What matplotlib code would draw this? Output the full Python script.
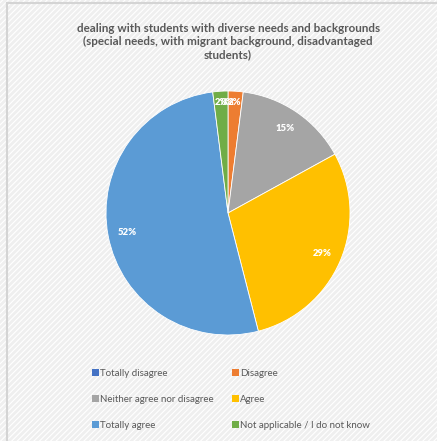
import matplotlib
matplotlib.use('Agg')
import matplotlib.pyplot as plt
from matplotlib.patches import Rectangle
from matplotlib.lines import Line2D

labels = ['Totally disagree', 'Disagree', 'Neither agree nor disagree', 'Agree',
          'Totally agree', 'Not applicable / I do not know']
values = [0, 2, 15, 29, 52, 2]
colors = ['#4472C4', '#ED7D31', '#A5A5A5', '#FFC000', '#5B9BD5', '#70AD47']
title = ('dealing with students with diverse needs and backgrounds\n'
         '(special needs, with migrant background, disadvantaged\nstudents)')

plt.rcParams['font.family'] = ['Lato', 'DejaVu Sans']
plt.rcParams['hatch.linewidth'] = 2.0

fig = plt.figure(figsize=(4.37, 4.41), dpi=100)

# hatched background like the office chart area
bg = Rectangle((0, 0), 1, 1, transform=fig.transFigure, facecolor='white',
               edgecolor='#efefef', hatch='//////', linewidth=0, zorder=-10)
fig.patches.append(bg)
fig.add_artist(Line2D([6.5/437, 6.5/437], [0, 1 - 3/441], color='#d4d4d4', lw=1.5))
fig.add_artist(Line2D([6.5/437, 1], [1 - 3/441, 1 - 3/441], color='#d4d4d4', lw=1.5))

fig.text(0.522, 0.947, title, ha='center', va='top', fontsize=8.4,
         fontweight='bold', color='#595959', linespacing=1.2)

# pie axes: matplotlib pads the limits to +-1.25 radius
cx, cy, r = 228, 213, 122
half = r * 1.25
ax = fig.add_axes([(cx - half) / 437, 1 - (cy + half) / 441, 2 * half / 437, 2 * half / 441])
wedges, texts, autotexts = ax.pie(
    values, colors=colors, startangle=90, counterclock=False,
    autopct='%1.0f%%', pctdistance=0.84,
    wedgeprops=dict(edgecolor='white', linewidth=0.6),
    textprops=dict(color='white', fontsize=6.8, fontweight='heavy'))
for i, t in enumerate(autotexts):
    if values[i] <= 2:
        x, y = t.get_position()
        t.set_position((x * 1.08, y * 1.08))
ax.set_aspect('equal')

# legend filled row by row, two columns
order = [0, 2, 4, 1, 3, 5]
handles = [Rectangle((0, 0), 1, 1, facecolor=colors[i]) for i in order]
fig.legend(handles, [labels[i] for i in order], loc='upper left',
           bbox_to_anchor=(0.19, 0.183), ncol=2, frameon=False, fontsize=7.0,
           labelcolor='#595959', handlelength=0.7, handleheight=0.7,
           handletextpad=0.15, columnspacing=1.9, labelspacing=1.75)

fig.savefig('out.png', dpi=100)
